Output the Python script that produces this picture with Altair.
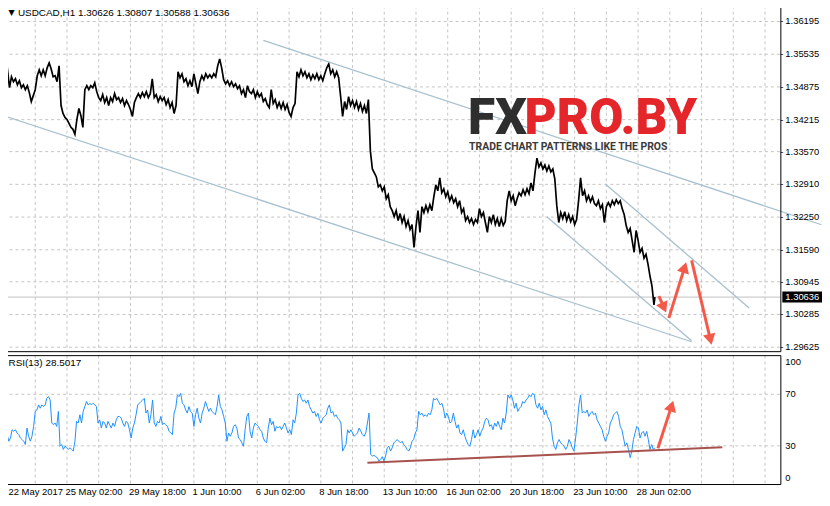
import altair as alt
import pandas as pd

FONT = "Liberation Sans"
FS = 9.5

# ---------------------------------------------------------------- price data
# USDCAD H1 path, sampled every 2 bars (alternating swing high / low), by segment
seg_start_bars = [0, 58, 98, 176, 298, 372, 510, 588]
price_seg_a = [1.3530, 1.3514, 1.3522, 1.3486, 1.3508, 1.3498, 1.3504, 1.3492, 1.3500, 1.3486,
               1.3492, 1.3482, 1.3490, 1.3476, 1.3458, 1.3470, 1.3482, 1.3510, 1.3522, 1.3510,
               1.3522, 1.3510, 1.3526, 1.3536, 1.3524, 1.3508, 1.3510, 1.3498, 1.3530]
price_seg_b = [1.3450, 1.3434, 1.3426, 1.3422, 1.3414, 1.3406, 1.3402, 1.3392, 1.3422, 1.3444,
               1.3430, 1.3406, 1.3482, 1.3490, 1.3482, 1.3490, 1.3486, 1.3496, 1.3478, 1.3466]
price_seg_c = [1.3460, 1.3472, 1.3456, 1.3466, 1.3450, 1.3466, 1.3458, 1.3474, 1.3462, 1.3466,
               1.3456, 1.3464, 1.3450, 1.3460, 1.3452, 1.3442, 1.3428, 1.3456, 1.3466, 1.3474,
               1.3466, 1.3476, 1.3468, 1.3478, 1.3466, 1.3474, 1.3504, 1.3466, 1.3472, 1.3458,
               1.3468, 1.3460, 1.3466, 1.3452, 1.3462, 1.3446, 1.3456, 1.3434, 1.3450]
price_seg_d = [1.3518, 1.3506, 1.3514, 1.3498, 1.3504, 1.3490, 1.3500, 1.3488, 1.3514, 1.3494,
               1.3474, 1.3498, 1.3510, 1.3502, 1.3514, 1.3506, 1.3512, 1.3506, 1.3514, 1.3508,
               1.3530, 1.3544, 1.3526, 1.3502, 1.3494, 1.3500, 1.3490, 1.3498, 1.3488, 1.3494,
               1.3484, 1.3490, 1.3474, 1.3482, 1.3466, 1.3490, 1.3478, 1.3474, 1.3482, 1.3466,
               1.3478, 1.3468, 1.3474, 1.3458, 1.3464, 1.3452, 1.3446, 1.3482, 1.3454, 1.3462,
               1.3446, 1.3456, 1.3444, 1.3456, 1.3442, 1.3452, 1.3436, 1.3428, 1.3446, 1.3454,
               1.3518]
price_seg_e = [1.3508, 1.3522, 1.3510, 1.3518, 1.3506, 1.3514, 1.3502, 1.3512, 1.3504, 1.3514,
               1.3502, 1.3510, 1.3500, 1.3514, 1.3526, 1.3534, 1.3514, 1.3522, 1.3508, 1.3518,
               1.3506, 1.3468, 1.3428, 1.3458, 1.3442, 1.3468, 1.3450, 1.3460, 1.3446, 1.3458,
               1.3442, 1.3454, 1.3438, 1.3450, 1.3434, 1.3462, 1.3358]
price_seg_f = [1.3322, 1.3314, 1.3306, 1.3286, 1.3290, 1.3278, 1.3286, 1.3262, 1.3270, 1.3246,
               1.3238, 1.3226, 1.3238, 1.3218, 1.3232, 1.3214, 1.3226, 1.3206, 1.3218, 1.3200,
               1.3210, 1.3164, 1.3206, 1.3238, 1.3194, 1.3246, 1.3234, 1.3248, 1.3236, 1.3250,
               1.3238, 1.3266, 1.3290, 1.3278, 1.3304, 1.3274, 1.3282, 1.3266, 1.3276, 1.3258,
               1.3268, 1.3254, 1.3262, 1.3246, 1.3258, 1.3234, 1.3242, 1.3218, 1.3226, 1.3214,
               1.3222, 1.3210, 1.3220, 1.3214, 1.3242, 1.3226, 1.3234, 1.3214, 1.3194, 1.3226,
               1.3214, 1.3230, 1.3210, 1.3222, 1.3206, 1.3222, 1.3208, 1.3216, 1.3258]
price_seg_g = [1.3278, 1.3258, 1.3268, 1.3248, 1.3262, 1.3274, 1.3268, 1.3280, 1.3270, 1.3282,
               1.3272, 1.3294, 1.3278, 1.3314, 1.3344, 1.3326, 1.3334, 1.3322, 1.3330, 1.3318,
               1.3328, 1.3316, 1.3322, 1.3302, 1.3248, 1.3214, 1.3234, 1.3222, 1.3236, 1.3218,
               1.3230, 1.3216, 1.3226, 1.3210, 1.3220, 1.3258, 1.3304, 1.3268, 1.3278]
price_seg_h = [1.3258, 1.3268, 1.3256, 1.3266, 1.3252, 1.3248, 1.3258, 1.3242, 1.3250, 1.3214,
               1.3246, 1.3254, 1.3246, 1.3258, 1.3250, 1.3260, 1.3252, 1.3258, 1.3242, 1.3230,
               1.3208, 1.3194, 1.3202, 1.3178, 1.3154, 1.3198, 1.3178, 1.3154, 1.3162, 1.3142,
               1.3150, 1.3130, 1.3106, 1.3086, 1.3048]
price_segments = [price_seg_a, price_seg_b, price_seg_c, price_seg_d,
                  price_seg_e, price_seg_f, price_seg_g, price_seg_h]
last_bar = 657
last_close = 1.30636
header_text = "USDCAD,H1  1.30626 1.30807 1.30588 1.30636"

# ---------------------------------------------------------------- RSI data
rsi_first_bar = 0.33
rsi_bar_step = 5 / 3
rsi_values_1 = [40.0, 37.4, 38.7, 33.6, 36.1, 42.5, 41.3, 42.5, 40.0, 38.7,
                36.1, 34.9, 33.6, 31.0, 43.8, 37.4, 33.6, 37.4, 45.1, 56.7,
                57.9, 61.8, 59.2, 61.8, 60.5, 61.8, 66.9, 68.2, 65.6, 47.7,
                46.4, 47.7, 45.1, 56.7,
                29.7, 31.0, 27.2, 29.7, 28.5, 27.2, 28.5, 27.2, 25.9, 33.6,
                49.0, 47.7, 54.1, 47.7, 56.7, 60.5, 64.4, 61.8, 63.1, 61.8,
                63.1, 61.8, 60.5, 47.7, 50.2, 43.8, 49.0, 47.7, 43.8, 49.0,
                46.4, 43.8, 47.7, 45.1, 50.2, 52.8, 52.8, 51.5, 47.7, 45.1,
                49.0, 47.7, 42.5, 36.1, 43.8, 47.7, 54.1, 61.8, 63.1, 64.4,
                65.6, 66.9, 55.4, 57.9, 47.7, 54.1, 65.6, 47.7, 45.1, 49.0,
                47.7, 52.8, 46.4, 47.7, 46.4, 45.1, 41.3, 40.0, 38.7, 55.4,
                59.2, 69.5, 68.2, 70.8, 63.1, 61.8, 57.9, 55.4, 60.5, 56.7,
                55.4, 45.1, 54.1, 59.2, 51.5, 47.7, 55.4, 59.2, 64.4, 60.5,
                56.7, 59.2, 56.7, 55.4, 54.1, 60.5, 69.5, 60.5, 57.9, 52.8,
                47.7, 33.6, 40.0, 37.4, 40.0, 45.1, 46.4, 43.8, 36.1, 34.9,
                32.3, 29.7, 42.5, 52.8, 55.4, 41.3, 36.1, 43.8, 47.7, 46.4,
                45.1, 42.5, 41.3, 36.1, 33.6, 32.3, 43.8, 51.5, 46.4, 49.0,
                41.3, 45.1, 43.8, 45.1, 42.5, 45.1, 47.7, 43.8, 40.0, 42.5,
                38.7, 50.2, 47.7, 55.4, 69.5, 70.8, 66.9, 64.4, 65.6, 63.1,
                65.6, 60.5, 57.9, 55.4, 56.7, 52.8, 55.4, 50.2, 47.7, 51.5,
                52.8, 54.1]
rsi_values_2 = [59.2, 61.8, 55.4, 56.7, 52.8, 54.1, 51.5, 50.2, 47.7, 25.9,
                28.5, 31.0, 42.5, 40.0, 42.5, 40.0, 37.4, 38.7, 40.0, 43.8,
                41.3, 38.7, 37.4, 40.0, 47.7, 55.4, 23.3, 22.1, 22.6, 21.6,
                20.8, 18.2, 19.5, 21.6, 18.2, 22.1, 28.5, 29.7, 25.9, 28.5,
                32.3, 33.6, 34.9, 33.6, 32.3, 33.6, 31.0, 29.7, 27.2, 25.9,
                28.5, 33.6, 34.9, 40.0, 42.5, 56.7, 54.1, 55.4, 52.8, 54.1,
                52.8, 55.4, 54.1, 57.9, 66.9, 65.6, 66.9, 64.4, 61.8, 63.1,
                59.2, 51.5, 55.4, 52.8, 47.7, 49.0, 55.4, 49.0, 43.8, 46.4,
                40.0, 38.7, 42.5, 37.4, 33.6, 31.0, 29.7, 34.9, 42.5, 36.1,
                38.7, 42.5, 37.4, 41.3, 43.8, 49.0, 51.5, 50.2, 45.1, 46.4,
                42.5, 47.7, 45.1, 49.0, 45.1, 42.5, 51.5, 47.7, 55.4, 69.5,
                66.9, 69.5, 65.6, 59.2, 63.1, 56.7, 59.2, 60.5, 64.4, 63.1,
                65.6, 66.9, 69.5, 68.2, 70.8, 69.5, 61.8, 59.2, 63.1, 57.9,
                60.5, 54.1, 57.9, 52.8, 50.2, 47.7, 36.1, 29.7, 27.2, 32.3,
                34.9, 32.3, 31.0, 29.7, 27.2, 29.7, 34.9, 32.3, 28.5, 25.9,
                36.1, 47.7, 61.8, 69.5, 55.4, 56.7, 55.4, 57.9, 52.8, 55.4,
                56.7, 54.1, 55.4, 50.2, 47.7, 45.1, 42.5, 37.4, 33.6, 37.4,
                40.0, 47.7, 50.2, 54.1, 55.4, 56.7, 52.8, 45.1, 42.5, 36.1,
                29.7, 32.3, 27.2, 20.8, 25.9, 34.9, 40.0, 45.1, 43.8, 36.1,
                40.0, 41.3, 37.4, 41.3, 34.9, 27.2, 31.0, 27.2, 28.5017]
rsi_label = "RSI(13) 28.5017"

# ---------------------------------------------------------------- axes
price_ticks = [1.36195, 1.35535, 1.34875, 1.34215, 1.33570, 1.32910,
               1.32250, 1.31590, 1.30945, 1.30285, 1.29625]
price_top, price_bottom = 1.36515, 1.29535
rsi_ticks = [0, 30, 70, 100]
rsi_guides = [30, 70]
x_tick_labels = ["22 May 2017", "25 May 02:00", "29 May 18:00", "1 Jun 10:00",
                 "6 Jun 02:00", "8 Jun 18:00", "13 Jun 10:00", "16 Jun 02:00",
                 "20 Jun 18:00", "23 Jun 10:00", "28 Jun 02:00"]
x_label_every = 64
x_grid_every = 32
x_last_bar = 784

# ---------------------------------------------------------------- annotations
trend_id = ["upper", "upper", "lower", "lower", "ch_low", "ch_low", "ch_up", "ch_up"]
trend_bar = [262, 825, 0, 694, 548, 694, 607, 752]
trend_price = [1.35815, 1.32095, 1.34295, 1.29735, 1.32255, 1.29755, 1.32915, 1.30415]

arrow_start_bar = [661, 671, 694]
arrow_start_price = [1.30655, 1.30215, 1.31375]
arrow_head_bar = [666.1, 686.9, 712.9]
arrow_head_price = [1.30423, 1.31233, 1.29781]
arrow_angle = [156.4, 17.3, 166.7]

rsi_arrow_bar = [660, 673.8]
rsi_arrow_value = [28.2, 61.0]
rsi_arrow_angle = 17.8

rsi_support_bar = [367, 725]
rsi_support_value = [16.8, 29.0]

# ---------------------------------------------------------------- tables
rows = []
for start, seg in zip(seg_start_bars, price_segments):
    for k, p in enumerate(seg):
        rows.append({"bar": start + 2 * k, "price": p})
rows.append({"bar": last_bar, "price": last_close})
price_df = pd.DataFrame(rows)

rsi_vals = rsi_values_1 + rsi_values_2
rsi_df = pd.DataFrame({
    "bar": [round(rsi_first_bar + k * rsi_bar_step, 2) for k in range(len(rsi_vals))],
    "rsi": rsi_vals,
})

x_grid_vals = list(range(0, x_last_bar + 1, x_grid_every))
x_label_df = pd.DataFrame({
    "bar": [k * x_label_every for k in range(len(x_tick_labels))],
    "label": x_tick_labels,
})
price_tick_df = pd.DataFrame({"price": price_ticks, "label": ["%.5f" % p for p in price_ticks]})
rsi_tick_df = pd.DataFrame({"rsi": rsi_ticks, "label": [str(v) for v in rsi_ticks]})

# grid lines as two-point segments (each line = one id)
ph_rows, pv_rows, rh_rows, rv_rows = [], [], [], []
for i, p in enumerate(price_ticks):
    ph_rows += [{"gid": i, "bar": 0, "price": p}, {"gid": i, "bar": x_last_bar, "price": p}]
for i, g in enumerate(x_grid_vals):
    pv_rows += [{"gid": i, "bar": g, "price": price_top, "o": 0},
                {"gid": i, "bar": g, "price": price_bottom, "o": 1}]
    rv_rows += [{"gid": i, "bar": g, "rsi": 100, "o": 0}, {"gid": i, "bar": g, "rsi": 0, "o": 1}]
for i, r in enumerate(rsi_guides):
    rh_rows += [{"gid": i, "bar": 0, "rsi": r}, {"gid": i, "bar": x_last_bar, "rsi": r}]
ph_df, pv_df = pd.DataFrame(ph_rows), pd.DataFrame(pv_rows)
rh_df, rv_df = pd.DataFrame(rh_rows), pd.DataFrame(rv_rows)

trend_df = pd.DataFrame({"line": trend_id, "bar": trend_bar, "price": trend_price})
shaft_rows = []
for i in range(len(arrow_start_bar)):
    shaft_rows.append({"arrow": i, "bar": arrow_start_bar[i], "price": arrow_start_price[i]})
    shaft_rows.append({"arrow": i, "bar": arrow_head_bar[i], "price": arrow_head_price[i]})
shaft_df = pd.DataFrame(shaft_rows)
head_df = pd.DataFrame({"bar": arrow_head_bar, "price": arrow_head_price, "angle": arrow_angle})
rsi_arrow_df = pd.DataFrame({"bar": rsi_arrow_bar, "rsi": rsi_arrow_value})
rsi_head_df = pd.DataFrame({"bar": [rsi_arrow_bar[1]], "rsi": [rsi_arrow_value[1]],
                            "angle": [rsi_arrow_angle]})
support_df = pd.DataFrame({"bar": rsi_support_bar, "rsi": rsi_support_value})
one = pd.DataFrame({"k": [0]})

# ---------------------------------------------------------------- scales (half-pixel aligned)
x_scale = alt.Scale(domain=[0, x_last_bar], range=[0.5, 784.5], nice=False, zero=False)
price_scale = alt.Scale(domain=[price_bottom, price_top], range=[349.5, 0.5], nice=False, zero=False)
rsi_scale = alt.Scale(domain=[0, 100], range=[483.5, 353.5], nice=False, zero=False)

GRID = "#c4c4c4"
RED = "#f35a4a"
LINE_BLUE = "#a7c0cf"


def X(field="bar"):
    return alt.X(field + ":Q", scale=x_scale, axis=None)


def YP(field="price"):
    return alt.Y(field + ":Q", scale=price_scale, axis=None)


def YR(field="rsi"):
    return alt.Y(field + ":Q", scale=rsi_scale, axis=None)


def grid_lines(df, y, ordered=False):
    enc = dict(x=X(), y=y, detail="gid:N")
    if ordered:
        enc["order"] = alt.Order("o:Q")
    return alt.Chart(df).mark_line(color=GRID, strokeWidth=1, strokeDash=[3, 3]).encode(**enc)


# ---------------------------------------------------------------- price panel
price_hgrid = grid_lines(ph_df, YP())
price_vgrid = grid_lines(pv_df, YP(), ordered=True)
price_labels = alt.Chart(price_tick_df).mark_text(font=FONT, fontSize=FS, color="#000000",
                                                  align="left", baseline="middle").encode(
    y=YP(), x=alt.value(789), text="label:N")
price_tickmarks = alt.Chart(price_tick_df).mark_text(text="-", font=FONT, fontSize=FS,
                                                     color="#000000", align="left",
                                                     baseline="middle").encode(
    y=YP(), x=alt.value(784))
price_line = alt.Chart(price_df).mark_line(color="#000000", strokeWidth=1.7).encode(x=X(), y=YP())
price_frame = alt.Chart(one).mark_rect(filled=False, stroke="#000000", strokeWidth=1).encode(
    x=alt.XDatum(0, scale=x_scale, axis=None), x2=alt.X2Datum(x_last_bar),
    y=alt.YDatum(price_top, scale=price_scale, axis=None), y2=alt.Y2Datum(price_bottom),
)
last_rule = alt.Chart(one).mark_rule(color="#c0c0c0", strokeWidth=1).encode(
    y=alt.YDatum(last_close, scale=price_scale, axis=None),
)
trend_lines = alt.Chart(trend_df).mark_line(color=LINE_BLUE, strokeWidth=1.3).encode(
    x=X(), y=YP(), detail="line:N")
logo_fx = alt.Chart(one).mark_text(text="FX", font="Roboto", fontSize=50, fontWeight=900,
                                   color="#2e2e2e", align="left", baseline="alphabetic").encode(
    x=alt.value(469), y=alt.value(130))
logo_pro = alt.Chart(one).mark_text(text="PRO.BY", font="Roboto", fontSize=50, fontWeight=900,
                                    color="#e4262b", align="left", baseline="alphabetic").encode(
    x=alt.value(526), y=alt.value(130))
logo_sub = alt.Chart(one).mark_text(text="TRADE CHART PATTERNS LIKE THE PROS", font="Roboto",
                                    fontSize=10.5, fontWeight="bold", color="#3a3a3a",
                                    align="left", baseline="alphabetic").encode(
    x=alt.value(470), y=alt.value(146))
shafts = alt.Chart(shaft_df).mark_line(color=RED, strokeWidth=3).encode(
    x=X(), y=YP(), detail="arrow:N")
heads = alt.Chart(head_df).mark_point(shape="triangle-up", filled=True, size=160, color=RED,
                                      opacity=1, strokeWidth=0).encode(
    x=X(), y=YP(), angle=alt.Angle("angle:Q", scale=None))
price_box = alt.Chart(one).mark_point(shape="M-1,-0.27L1,-0.27L1,0.27L-1,0.27Z", filled=True,
                                      size=1681, color="#000000", opacity=1, strokeWidth=0).encode(
    x=alt.value(806.5), y=alt.YDatum(last_close, scale=price_scale, axis=None))
price_box_text = alt.Chart(one).mark_text(text="1.30636", font=FONT, fontSize=FS, color="#ffffff",
                                          align="left", baseline="middle").encode(
    x=alt.value(789), y=alt.YDatum(last_close, scale=price_scale, axis=None))
header_tri = alt.Chart(one).mark_text(text="▼", font="DejaVu Sans", fontSize=8, color="#000000",
                                      align="left", baseline="middle").encode(
    x=alt.value(5.5), y=alt.value(8))
header = alt.Chart(one).mark_text(text=header_text, font=FONT, fontSize=10, color="#000000",
                                  align="left", baseline="middle").encode(
    x=alt.value(15), y=alt.value(8))

price_panel = alt.layer(price_hgrid, price_vgrid, last_rule, price_line, trend_lines,
                        logo_fx, logo_pro, logo_sub, shafts, heads, price_frame, price_tickmarks,
                        price_labels, price_box, price_box_text, header_tri, header)

# ---------------------------------------------------------------- RSI panel
rsi_hgrid = grid_lines(rh_df, YR())
rsi_vgrid = grid_lines(rv_df, YR(), ordered=True)
rsi_line = alt.Chart(rsi_df).mark_line(color="#1e90ff", strokeWidth=1).encode(x=X(), y=YR())
rsi_frame = alt.Chart(one).mark_rect(filled=False, stroke="#000000", strokeWidth=1).encode(
    x=alt.XDatum(0, scale=x_scale, axis=None), x2=alt.X2Datum(x_last_bar),
    y=alt.YDatum(100, scale=rsi_scale, axis=None), y2=alt.Y2Datum(0),
)
rsi_label_style = dict(font=FONT, fontSize=FS, color="#000000", align="left", baseline="middle")
rsi_labels_mid = alt.Chart(rsi_tick_df).transform_filter(
    "datum.rsi > 0 && datum.rsi < 100").mark_text(**rsi_label_style).encode(
    y=YR(), x=alt.value(789), text="label:N")
rsi_labels_top = alt.Chart(rsi_tick_df).transform_filter("datum.rsi == 100").mark_text(
    dy=6, **rsi_label_style).encode(y=YR(), x=alt.value(789), text="label:N")
rsi_labels_bot = alt.Chart(rsi_tick_df).transform_filter("datum.rsi == 0").mark_text(
    dy=-7, **rsi_label_style).encode(y=YR(), x=alt.value(789), text="label:N")
x_label_style = dict(font=FONT, fontSize=FS, color="#000000", align="left", baseline="top")
x_labels = alt.Chart(x_label_df).transform_filter("datum.bar > 0").mark_text(
    dx=-1.5, **x_label_style).encode(x=X(), y=alt.value(486), text="label:N")
x_label_first = alt.Chart(x_label_df).transform_filter("datum.bar == 0").mark_text(
    dx=5, **x_label_style).encode(x=X(), y=alt.value(486), text="label:N")
support = alt.Chart(support_df).mark_line(color="#a8524e", strokeWidth=2).encode(x=X(), y=YR())
rsi_shaft = alt.Chart(rsi_arrow_df).mark_line(color=RED, strokeWidth=3).encode(x=X(), y=YR())
rsi_head = alt.Chart(rsi_head_df).mark_point(shape="triangle-up", filled=True, size=160, color=RED,
                                             opacity=1, strokeWidth=0).encode(
    x=X(), y=YR(), angle=alt.Angle("angle:Q", scale=None))
rsi_title = alt.Chart(one).mark_text(text=rsi_label, font=FONT, fontSize=10, color="#000000",
                                     align="left", baseline="middle").encode(
    x=alt.value(5.5), y=alt.value(361))

rsi_panel = alt.layer(rsi_hgrid, rsi_vgrid, rsi_line, support, rsi_shaft, rsi_head,
                      rsi_frame, rsi_labels_mid, rsi_labels_top, rsi_labels_bot,
                      x_labels, x_label_first, rsi_title)

chart = alt.layer(price_panel, rsi_panel).resolve_scale(y="independent").properties(
    width=784, height=483,
    padding={"left": -5, "top": -5, "right": 42, "bottom": 14},
    autosize=alt.AutoSizeParams(type="none"),
).configure_view(stroke=None)

chart.save("out.html", embed_options={"renderer": "svg", "actions": False})
